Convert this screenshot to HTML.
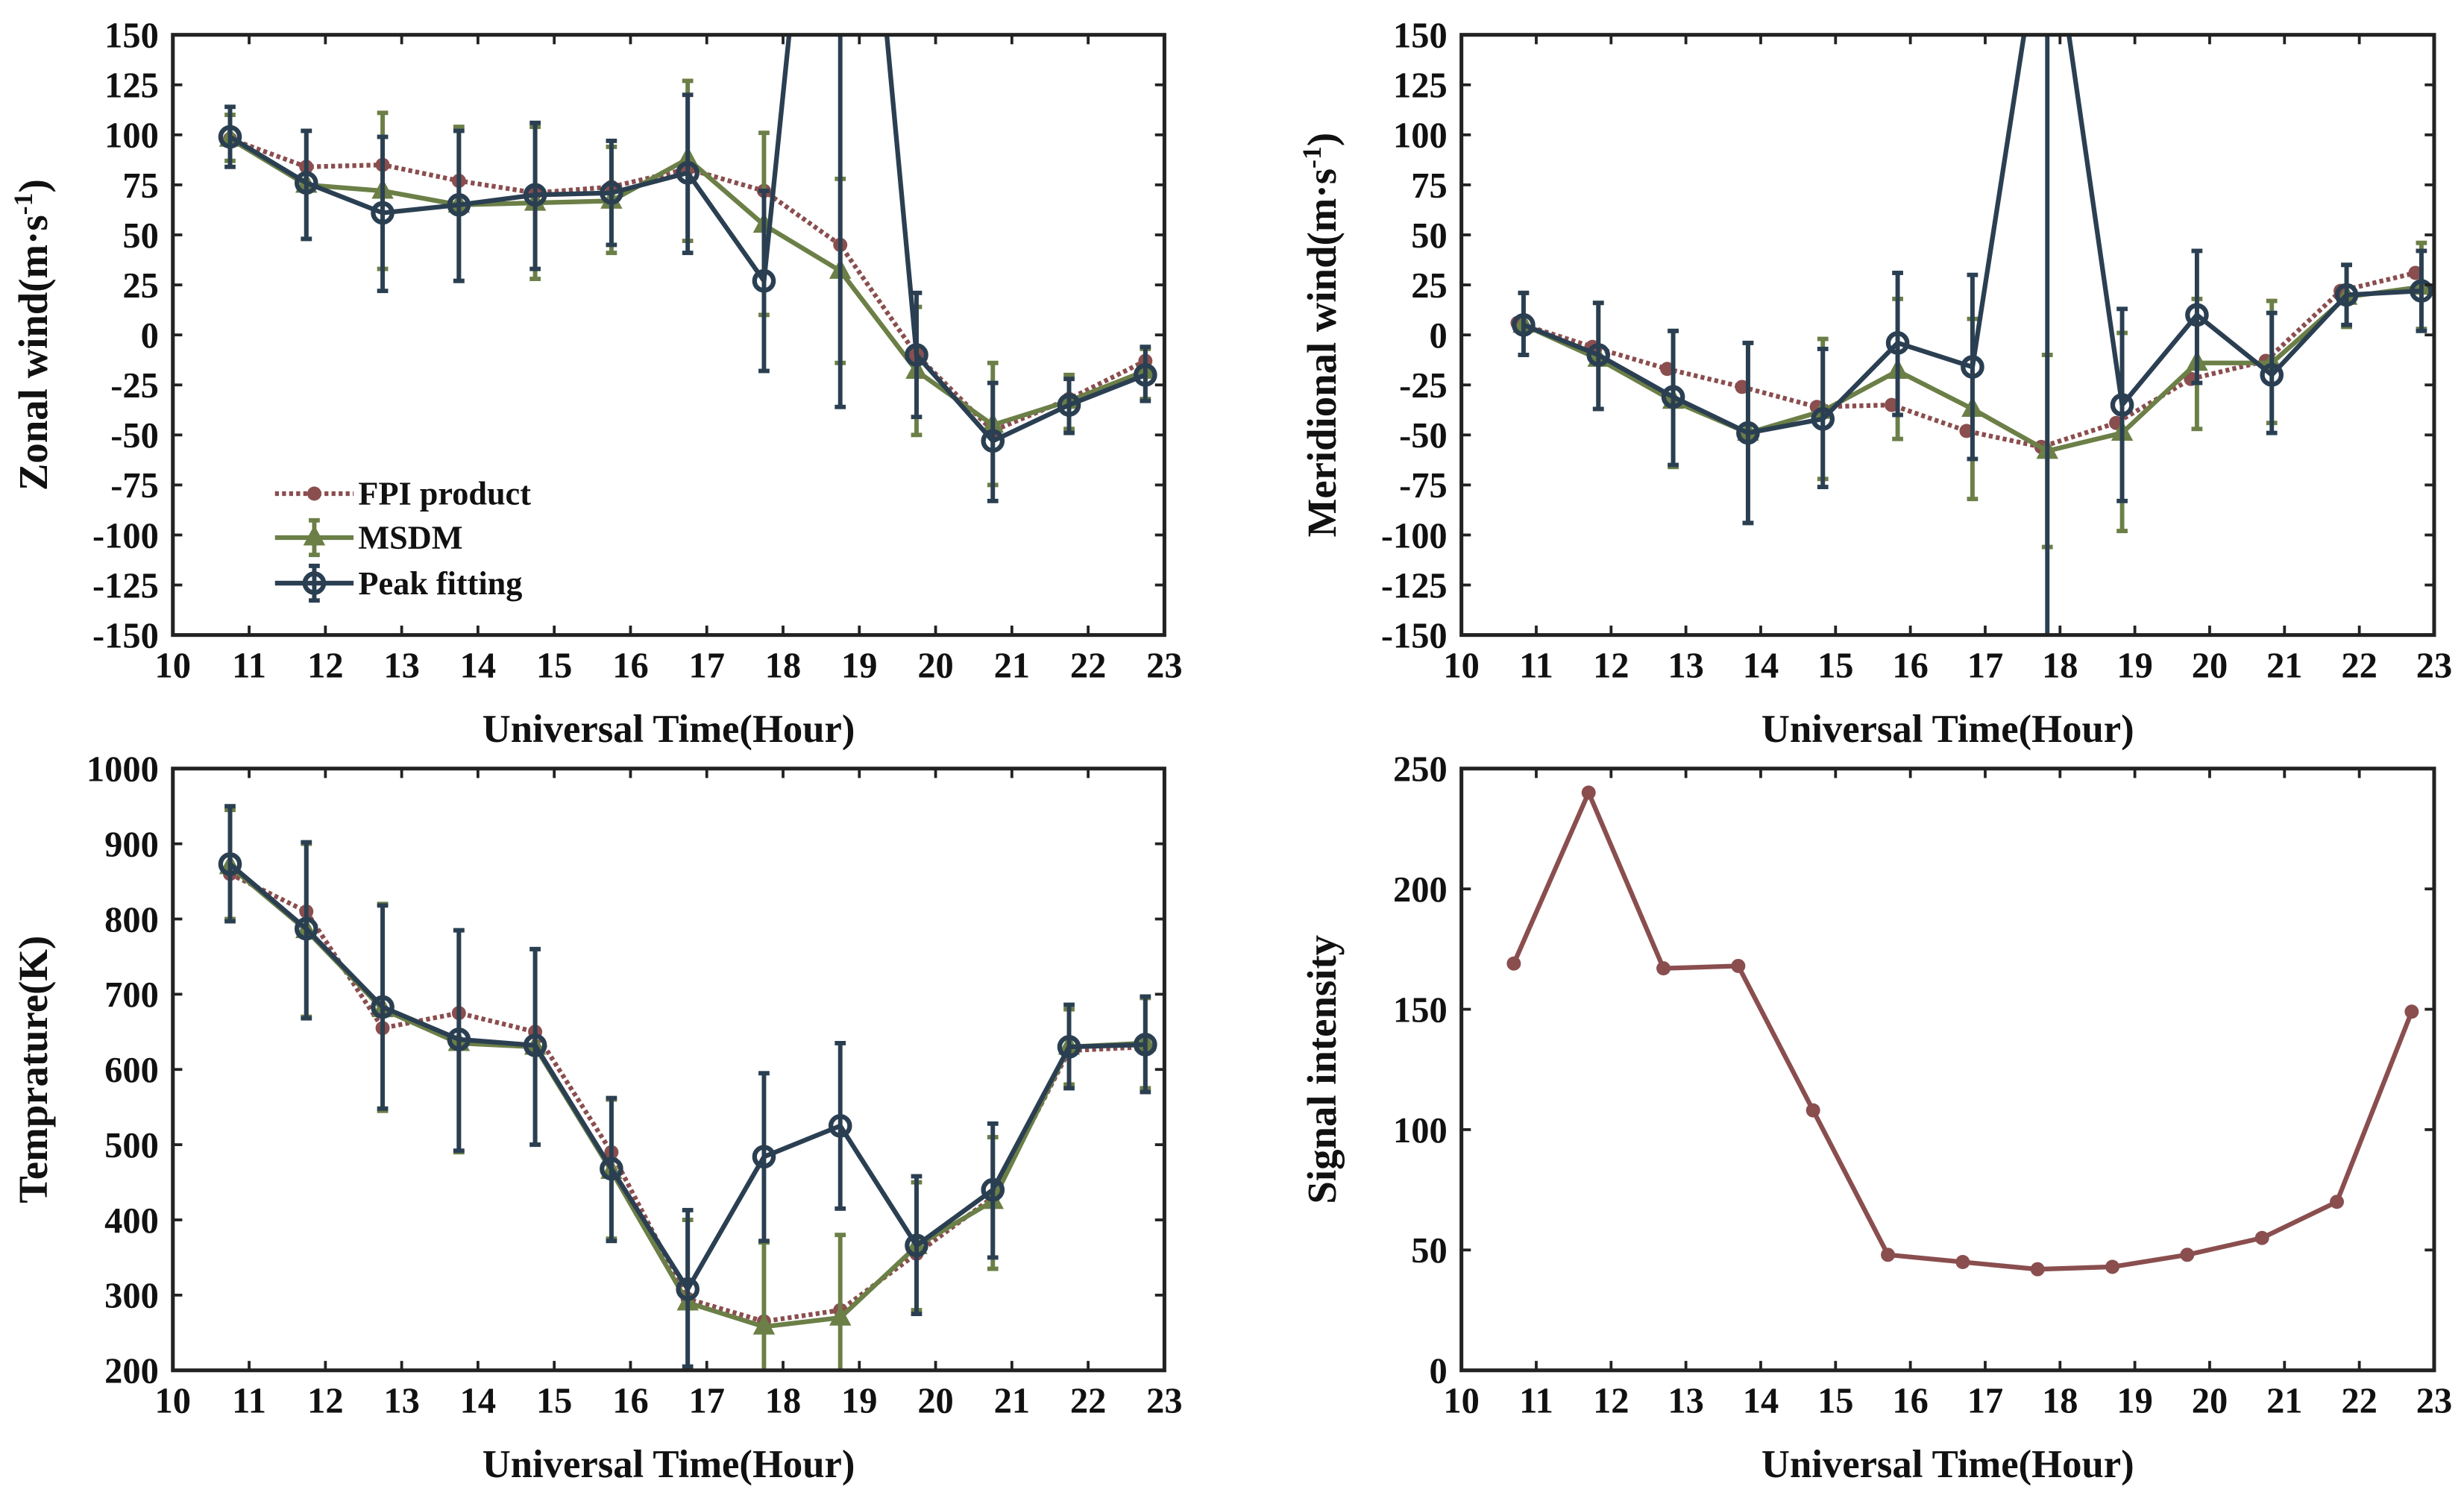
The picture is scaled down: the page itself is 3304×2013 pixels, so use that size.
<!DOCTYPE html>
<html><head><meta charset="utf-8"><style>
html,body{margin:0;padding:0;background:#fff}
svg{display:block}
text{font-family:"Liberation Serif",serif;font-weight:bold;fill:#111}
</style></head><body>
<svg id="fig" width="3304" height="2013" viewBox="0 0 1568 955" xmlns="http://www.w3.org/2000/svg"></svg>
<script>
// ---- data ----
const hoursA = [10.75,11.75,12.75,13.75,14.75,15.75,16.75,17.75,18.75,19.75,20.75,21.75,22.75];
const hoursB = [10.83,11.83,12.83,13.83,14.83,15.83,16.83,17.83,18.83,19.83,20.83,21.83,22.83];
const hoursFpiB = [10.75,11.75,12.75,13.75,14.75,15.75,16.75,17.75,18.75,19.75,20.75,21.75,22.75];
const hoursSig = [10.7,11.7,12.7,13.7,14.7,15.7,16.7,17.7,18.7,19.7,20.7,21.7,22.7];
const xTicks = [10,11,12,13,14,15,16,17,18,19,20,21,22,23];
const windTicks = [150,125,100,75,50,25,0,-25,-50,-75,-100,-125,-150];
const tempTicks = [1000,900,800,700,600,500,400,300,200];
const sigTicks = [250,200,150,100,50,0];

const zonalFpi = [98,84,85,77,71,74,83,72,45,-10,-48,-32,-13];
const zonalMsdm = [98,75,72,65,66,67,88,55,32,-18,-45,-33,-18];
const zonalMsdmLo = [87,48,33,27,28,41,47,10,-14,-50,-75,-47,-32];
const zonalMsdmHi = [110,102,111,104,104,94,127,101,78,14,-14,-20,-7];
const zonalPeak = [99,76,61,65,70,71,81,27,400,-10,-53,-35,-20];
const zonalPeakLo = [84,48,22,27,33,45,41,-18,-36,-41,-83,-49,-33];
const zonalPeakHi = [114,102,99,102,106,97,120,72,400,21,-24,-22,-6];

const merFpi = [6,-6,-17,-26,-36,-35,-48,-56,-44,-22,-13,22,31];
const merMsdm = [5,-12,-33,-49,-38,-18,-37,-58,-49,-14,-14,19,24];
const merMsdmLo = [-10,-37,-66,-94,-72,-52,-82,-106,-98,-47,-44,4,3];
const merMsdmHi = [21,16,2,-4,-2,18,8,-10,1,18,17,35,46];
const merPeak = [5,-10,-31,-49,-42,-4,-16,225,-35,10,-20,20,22];
const merPeakLo = [-10,-37,-65,-94,-76,-40,-62,-400,-83,-24,-49,5,2];
const merPeakHi = [21,16,2,-4,-7,31,30,400,13,42,11,35,42];

const tempFpi = [860,810,655,675,650,490,295,265,280,355,430,625,630];
const tempMsdm = [870,785,680,635,630,465,290,258,270,365,425,630,635];
const tempMsdmLo = [800,670,545,490,500,375,180,150,160,280,335,580,575];
const tempMsdmHi = [945,900,820,785,760,560,400,370,380,450,510,680,695];
const tempPeak = [873,787,683,640,632,468,308,484,525,366,440,630,633];
const tempPeakLo = [797,668,548,492,500,372,205,372,415,275,350,575,570];
const tempPeakHi = [950,902,818,785,760,562,413,595,635,458,528,686,697];

const signal = [169,240,167,168,108,48,45,42,43,48,55,70,149];

const C_FPI="#8a4e4f", C_MS="#6b7f47", C_PK="#2b3f52";
const NS="http://www.w3.org/2000/svg";
const svg=document.getElementById('fig');
function mk(tag,attrs,parent){const e=document.createElementNS(NS,tag);for(const k in attrs)e.setAttribute(k,attrs[k]);(parent||svg).appendChild(e);return e;}

function panel(id,L,R,T,B,ymin,ymax,yt,ylabel){
  const g=mk('g',{});
  
  
  const sx=v=>L+(v-10)/13*(R-L);
  const sy=v=>B-(v-ymin)/(ymax-ymin)*(B-T);
  const cid='clip-'+id;
  const cp=mk('clipPath',{id:cid},g);mk('rect',{x:L,y:T,width:R-L,height:B-T},cp);
  const plot=mk('g',{'clip-path':'url(#'+cid+')'},g);
  xTicks.forEach(t=>{
    const x=sx(t);
    mk('line',{x1:x,x2:x,y1:B,y2:B-6,stroke:'#222','stroke-width':1.8},g);
    mk('line',{x1:x,x2:x,y1:T,y2:T+6,stroke:'#222','stroke-width':1.8},g);
    const tx=mk('text',{x:x,y:B+27,'text-anchor':'middle','font-size':23},g);tx.textContent=t;
    
    
  });
  yt.forEach(t=>{
    const y=sy(t);
    mk('line',{x1:L,x2:L+6,y1:y,y2:y,stroke:'#222','stroke-width':1.8},g);
    mk('line',{x1:R,x2:R-6,y1:y,y2:y,stroke:'#222','stroke-width':1.8},g);
    const tx=mk('text',{x:L-9,y:y+8,'text-anchor':'end','font-size':23},g);tx.textContent=t;
    
    
  });
  mk('rect',{x:L,y:T,width:R-L,height:B-T,fill:'none',stroke:'#222','stroke-width':2.4},g);
  const xl=mk('text',{x:(L+R)/2,y:B+68,'text-anchor':'middle','font-size':25},g);xl.textContent='Universal Time(Hour)';
  
  
  const cy=(T+B)/2, lx=L-80;
  const yl=mk('text',{x:lx,y:cy,'text-anchor':'middle','font-size':26,transform:`rotate(-90 ${lx} ${cy})`},g);
  yl.innerHTML=ylabel;
  
  
  return {g,plot,sx,sy};
}
function series(p,xs,ys,color,opts){
  const pts=xs.map((x,i)=>p.sx(x)+','+p.sy(ys[i])).join(' ');
  const ln=mk('polyline',{points:pts,fill:'none',stroke:color,'stroke-width':3,'stroke-dasharray':opts.dash||'none','stroke-linejoin':'round'},p.plot);
  
  
  if(opts.lo){
    xs.forEach((x,i)=>{
      const X=p.sx(x),y1=p.sy(opts.lo[i]),y2=p.sy(opts.hi[i]);
      const eb=mk('g',{stroke:color,'stroke-width':2.8},p.plot);
      
      
      mk('line',{x1:X,x2:X,y1:y1,y2:y2},eb);
      mk('line',{x1:X-3.5,x2:X+3.5,y1:y1,y2:y1},eb);
      mk('line',{x1:X-3.5,x2:X+3.5,y1:y2,y2:y2},eb);
    });
  }
  xs.forEach((x,i)=>{
    const X=p.sx(x),Y=p.sy(ys[i]);let m;
    if(opts.marker==='dot') m=mk('circle',{cx:X,cy:Y,r:4.5,fill:color},p.plot);
    else if(opts.marker==='tri') m=mk('polygon',{points:`${X},${Y-8} ${X-7},${Y+5} ${X+7},${Y+5}`,fill:color},p.plot);
    else m=mk('circle',{cx:X,cy:Y,r:6,fill:'none',stroke:color,'stroke-width':3},p.plot);
    
    
  });
}
const windLabel=(t)=>t+'(m·s<tspan baseline-shift="super" font-size="17">-1</tspan>)';
const p1=panel('zonal-wind-panel',110,741,22,404,-150,150,windTicks,windLabel('Zonal wind'));
series(p1,hoursA,zonalFpi,C_FPI,{marker:'dot',dash:'2.5,2',name:'fpi'});
series(p1,hoursA,zonalMsdm,C_MS,{marker:'tri',lo:zonalMsdmLo,hi:zonalMsdmHi,name:'msdm'});
series(p1,hoursA,zonalPeak,C_PK,{marker:'ring',lo:zonalPeakLo,hi:zonalPeakHi,name:'peak'});
(function(){
  const lg=mk('g',{});
  
  
  const items=[['FPI product',C_FPI,'dot','2.5,2',314],['MSDM',C_MS,'tri','none',342],['Peak fitting',C_PK,'ring','none',371]];
  items.forEach(it=>{
    const e=mk('g',{},lg);
    
    
    const y=it[4];
    mk('line',{x1:175,x2:225,y1:y,y2:y,stroke:it[1],'stroke-width':3,'stroke-dasharray':it[3]},e);
    if(it[2]!=='dot'){mk('line',{x1:200,x2:200,y1:y-11,y2:y+11,stroke:it[1],'stroke-width':2.8},e);
      mk('line',{x1:196.5,x2:203.5,y1:y-11,y2:y-11,stroke:it[1],'stroke-width':2.8},e);
      mk('line',{x1:196.5,x2:203.5,y1:y+11,y2:y+11,stroke:it[1],'stroke-width':2.8},e);}
    if(it[2]==='dot')mk('circle',{cx:200,cy:y,r:4.5,fill:it[1]},e);
    else if(it[2]==='tri')mk('polygon',{points:`200,${y-8} 193,${y+5} 207,${y+5}`,fill:it[1]},e);
    else mk('circle',{cx:200,cy:y,r:6,fill:'none',stroke:it[1],'stroke-width':3},e);
    const t=mk('text',{x:228,y:y+7,'font-size':21},e);t.textContent=it[0];
  });
})();
const p2=panel('meridional-wind-panel',930,1549,22,404,-150,150,windTicks,windLabel('Meridional wind'));
series(p2,hoursFpiB,merFpi,C_FPI,{marker:'dot',dash:'2.5,2',name:'fpi'});
series(p2,hoursB,merMsdm,C_MS,{marker:'tri',lo:merMsdmLo,hi:merMsdmHi,name:'msdm'});
series(p2,hoursB,merPeak,C_PK,{marker:'ring',lo:merPeakLo,hi:merPeakHi,name:'peak'});
const p3=panel('temperature-panel',110,741,489,872,200,1000,tempTicks,'Temprature(K)');
series(p3,hoursA,tempFpi,C_FPI,{marker:'dot',dash:'2.5,2',name:'fpi'});
series(p3,hoursA,tempMsdm,C_MS,{marker:'tri',lo:tempMsdmLo,hi:tempMsdmHi,name:'msdm'});
series(p3,hoursA,tempPeak,C_PK,{marker:'ring',lo:tempPeakLo,hi:tempPeakHi,name:'peak'});
const p4=panel('signal-intensity-panel',930,1549,489,872,0,250,sigTicks,'Signal intensity');
series(p4,hoursSig,signal,C_FPI,{marker:'dot',name:'signal'});
</script>
</body></html>
